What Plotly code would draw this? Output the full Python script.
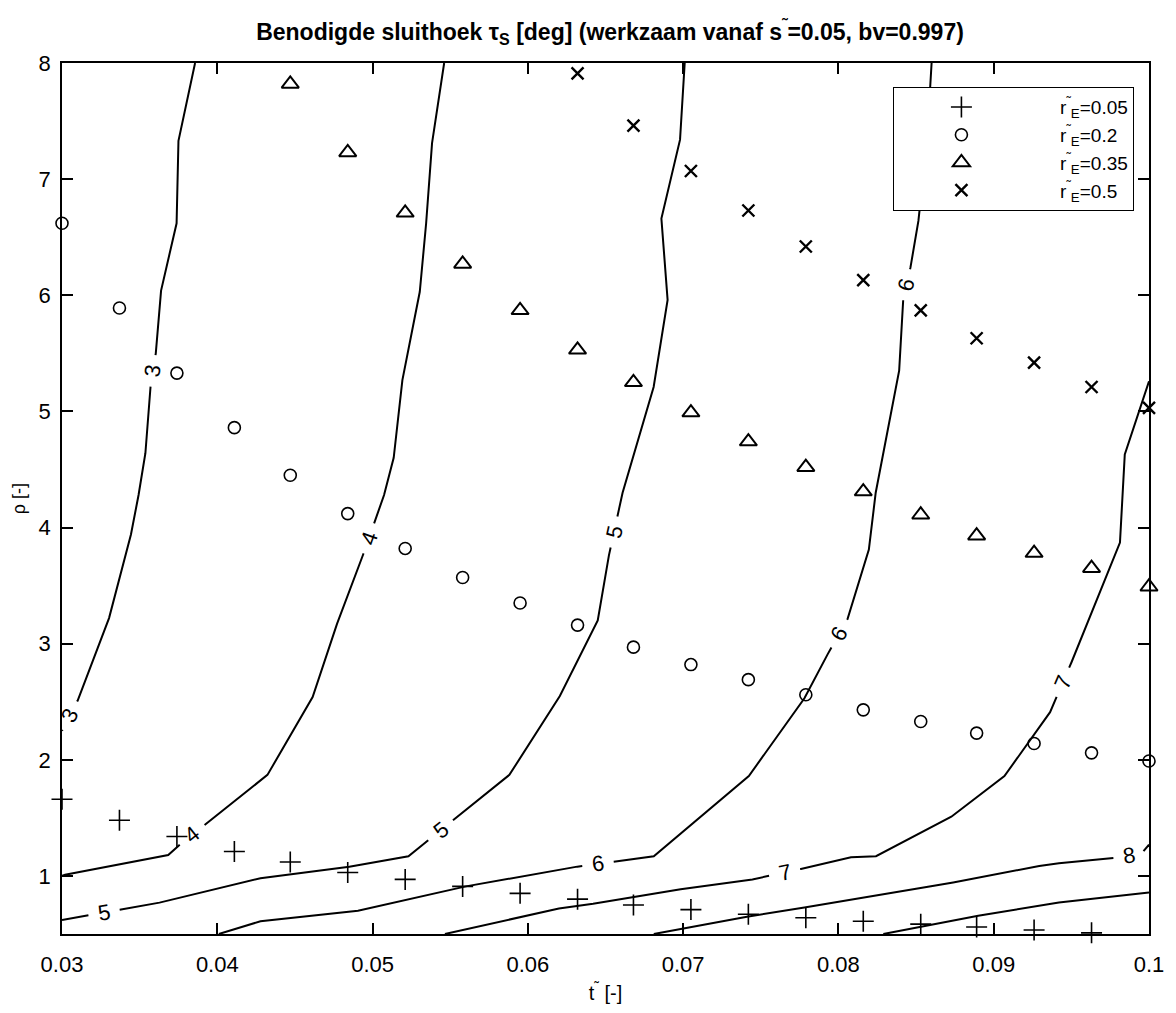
import math
import plotly.graph_objects as go

# ---------------------------------------------------------------------------
# Data
# ---------------------------------------------------------------------------
# t~ values at which the four r~_E series were evaluated
t_grid = [0.0300, 0.0337, 0.0374, 0.0411, 0.0447, 0.0484, 0.0521, 0.0558, 0.0595, 0.0632,
          0.0668, 0.0705, 0.0742, 0.0779, 0.0816, 0.0853, 0.0889, 0.0926, 0.0963, 0.1000]

# rho values per r~_E series (points above rho = 8 lie outside the axes)
rho_r005 = [1.66, 1.48, 1.34, 1.21, 1.12, 1.03, 0.97, 0.91, 0.85, 0.80,
            0.75, 0.71, 0.67, 0.64, 0.61, 0.585, 0.56, 0.535, 0.51, 0.49]
rho_r020 = [6.62, 5.89, 5.33, 4.86, 4.45, 4.12, 3.82, 3.57, 3.35, 3.16,
            2.97, 2.82, 2.69, 2.56, 2.43, 2.33, 2.23, 2.14, 2.06, 1.99]
t_r035 = t_grid[4:]
rho_r035 = [7.82, 7.23, 6.71, 6.27, 5.87, 5.53, 5.25, 4.99, 4.74, 4.52,
            4.31, 4.11, 3.93, 3.78, 3.65, 3.49]
t_r050 = t_grid[9:]
rho_r050 = [7.91, 7.46, 7.07, 6.73, 6.42, 6.13, 5.87, 5.63, 5.42, 5.21, 5.03]

series_names = ["r<sup>˜</sup><sub>E</sub>=0.05", "r<sup>˜</sup><sub>E</sub>=0.2",
                "r<sup>˜</sup><sub>E</sub>=0.35", "r<sup>˜</sup><sub>E</sub>=0.5"]

# Iso-lines of the required closing angle tau_S [deg]
contour_levels = [3, 4, 5, 6, 7, 8, 9]
c3_t = [0.0300, 0.03101, 0.03303, 0.03444, 0.03493, 0.03537, 0.0357, 0.03604, 0.03638,
        0.03738, 0.0375, 0.03857]
c3_rho = [2.25, 2.51, 3.22, 3.94, 4.28, 4.64, 5.21, 5.50, 6.04, 6.62, 7.33, 8.0]
c4_t = [0.0300, 0.0302, 0.03684, 0.03751, 0.04323, 0.04614, 0.04771, 0.0494, 0.05074,
        0.05136, 0.05192, 0.05304, 0.05345, 0.05383, 0.05461]
c4_rho = [1.00, 1.01, 1.18, 1.26, 1.87, 2.54, 3.17, 3.77, 4.28, 4.60, 5.27, 6.03, 6.62, 7.31, 8.0]
c5_t = [0.0300, 0.03628, 0.04278, 0.0485, 0.05231, 0.05881, 0.06206, 0.0645, 0.06522,
        0.0661, 0.0681, 0.0690, 0.0686, 0.0698, 0.0701]
c5_rho = [0.62, 0.77, 0.98, 1.08, 1.17, 1.87, 2.55, 3.20, 3.76, 4.30, 5.21, 5.96, 6.66, 7.34, 8.0]
c6_t = [0.0401, 0.04278, 0.04906, 0.05601, 0.06318, 0.06811, 0.07423, 0.07781, 0.07931,
        0.08058, 0.08196, 0.0824, 0.08391, 0.08418, 0.08464, 0.08515, 0.0857, 0.0860]
c6_rho = [0.50, 0.61, 0.70, 0.91, 1.08, 1.17, 1.86, 2.53, 2.91, 3.21, 3.81, 4.30, 5.35,
          5.98, 6.24, 6.64, 7.32, 8.0]
c7_t = [0.05466, 0.0620, 0.0642, 0.06984, 0.07446, 0.07758, 0.08081, 0.08242, 0.08727,
        0.09069, 0.09363, 0.09501, 0.09813, 0.0983, 0.09844, 0.1000]
c7_rho = [0.50, 0.72, 0.76, 0.886, 0.97, 1.06, 1.16, 1.17, 1.51, 1.86, 2.41, 2.84, 3.87,
          4.30, 4.63, 5.26]
c8_t = [0.06811, 0.07411, 0.07781, 0.0815, 0.08577, 0.08739, 0.09293, 0.0942, 0.0979,
        0.0995, 0.1000]
c8_rho = [0.50, 0.649, 0.729, 0.814, 0.906, 0.943, 1.086, 1.109, 1.157, 1.19, 1.27]
c9_t = [0.08289, 0.0890, 0.0942, 0.1000]
c9_rho = [0.50, 0.657, 0.771, 0.857]

# inline label anchors (t~, rho) per iso-line
c3_labels = [(0.0358, 5.35), (0.0305, 2.38)]
c4_labels = [(0.0384, 1.35), (0.0497, 3.91)]
c5_labels = [(0.0327, 0.69), (0.0544, 1.39), (0.0656, 3.96)]
c6_labels = [(0.0645, 1.12), (0.0800, 3.09), (0.0844, 6.09)]
c7_labels = [(0.0765, 1.05), (0.0944, 2.67)]
c8_labels = [(0.0987, 1.19)]
c9_labels = []

x_tickvals = [0.03, 0.04, 0.05, 0.06, 0.07, 0.08, 0.09, 0.10]
x_ticktext = ["0.03", "0.04", "0.05", "0.06", "0.07", "0.08", "0.09", "0.1"]
y_tickvals = [1, 2, 3, 4, 5, 6, 7, 8]

# ---------------------------------------------------------------------------
# Layout geometry
# ---------------------------------------------------------------------------
W, H = 1176, 1013
M_L, M_R, M_T, M_B = 62, 18, 63, 75
PW, PH = W - M_L - M_R, H - M_T - M_B
X0, X1 = 0.03, 0.10
Y0, Y1 = 0.5, 8.0
FONT = "Liberation Sans, Arial, sans-serif"
LABEL_GAP = 16  # half gap (px) cut out of an iso-line around its label
LEGEND_PAD = "\u00a0" * 6  # spacing between legend symbol column and text column


def to_px(t, r):
    return (t - X0) / (X1 - X0) * PW, (r - Y0) / (Y1 - Y0) * PH


def to_data(x, y):
    return X0 + x / PW * (X1 - X0), Y0 + y / PH * (Y1 - Y0)


def split_line(ts, rs, anchors):
    """Cut gaps into a polyline at label anchors; return x, y and label placements."""
    pts = [to_px(t, r) for t, r in zip(ts, rs)]
    cum = [0.0]
    for (xa, ya), (xb, yb) in zip(pts[:-1], pts[1:]):
        cum.append(cum[-1] + math.hypot(xb - xa, yb - ya))
    total = cum[-1]

    def at(s):
        for i in range(len(pts) - 1):
            if cum[i] <= s <= cum[i + 1]:
                seg = cum[i + 1] - cum[i]
                f = 0 if seg == 0 else (s - cum[i]) / seg
                return (pts[i][0] + f * (pts[i + 1][0] - pts[i][0]),
                        pts[i][1] + f * (pts[i + 1][1] - pts[i][1])), i
        return pts[-1], len(pts) - 2

    labels, cuts = [], []
    for ta, ra in anchors:
        ax, ay = to_px(ta, ra)
        best = None
        for i in range(len(pts) - 1):
            (xa, ya), (xb, yb) = pts[i], pts[i + 1]
            dx, dy = xb - xa, yb - ya
            L2 = dx * dx + dy * dy
            f = 0 if L2 == 0 else max(0, min(1, ((ax - xa) * dx + (ay - ya) * dy) / L2))
            px_, py_ = xa + f * dx, ya + f * dy
            d = math.hypot(ax - px_, ay - py_)
            if best is None or d < best[0]:
                best = (d, cum[i] + f * math.sqrt(L2), i)
        _, s, i = best
        (xa, ya), (xb, yb) = pts[i], pts[i + 1]
        ang = math.degrees(math.atan2(yb - ya, xb - xa))
        while ang > 90:
            ang -= 180
        while ang <= -90:
            ang += 180
        (lx, ly), _ = at(s)
        labels.append((to_data(lx, ly), -ang))
        cuts.append((max(0, s - LABEL_GAP), min(total, s + LABEL_GAP)))

    cuts.sort()
    pieces, start = [], 0.0
    for a, b in cuts:
        if a > start:
            pieces.append((start, a))
        start = max(start, b)
    if start < total:
        pieces.append((start, total))

    xs, ys = [], []
    for a, b in pieces:
        seg = [at(a)[0]] + [p for p, c in zip(pts, cum) if a < c < b] + [at(b)[0]]
        for x, y in seg:
            t, r = to_data(x, y)
            xs.append(t)
            ys.append(r)
        xs.append(None)
        ys.append(None)
    return xs, ys, labels


fig = go.Figure()
annotations = []

contours = [(c3_t, c3_rho, c3_labels), (c4_t, c4_rho, c4_labels), (c5_t, c5_rho, c5_labels),
            (c6_t, c6_rho, c6_labels), (c7_t, c7_rho, c7_labels), (c8_t, c8_rho, c8_labels),
            (c9_t, c9_rho, c9_labels)]
for level, (ts, rs, anchors) in zip(contour_levels, contours):
    xs, ys, labels = split_line(ts, rs, anchors)
    fig.add_trace(go.Scatter(x=xs, y=ys, mode="lines", showlegend=False,
                             line=dict(color="black", width=2), hoverinfo="skip"))
    for (lt, lr), angle in labels:
        annotations.append(dict(x=lt, y=lr, xref="x", yref="y", text=str(level),
                                showarrow=False, textangle=angle,
                                xanchor="center", yanchor="middle",
                                font=dict(family=FONT, size=22, color="black")))

marker_styles = [
    dict(symbol="cross-thin-open", size=15, color="black", line=dict(width=1.6, color="black")),
    dict(symbol="circle-open", size=12, color="black", line=dict(width=1.6, color="black")),
    dict(symbol="triangle-up-open", size=15, color="black", line=dict(width=2, color="black")),
    dict(symbol="x-thin-open", size=12, color="black", line=dict(width=2.4, color="black")),
]
series = [(t_grid, rho_r005), (t_grid, rho_r020), (t_r035, rho_r035), (t_r050, rho_r050)]
for name, (ts, rs), mk in zip(series_names, series, marker_styles):
    fig.add_trace(go.Scatter(x=ts, y=rs, mode="markers", name=LEGEND_PAD + name, marker=mk,
                             cliponaxis=False))

axis_common = dict(showline=True, linecolor="black", linewidth=1.6, mirror="ticks",
                   ticks="inside", ticklen=11, tickwidth=1.6, tickcolor="black",
                   showgrid=False, zeroline=False,
                   tickfont=dict(family=FONT, size=22, color="black"))

fig.update_layout(
    width=W, height=H,
    margin=dict(l=M_L, r=M_R, t=M_T, b=M_B),
    paper_bgcolor="white", plot_bgcolor="white",
    title=dict(text="Benodigde sluithoek τ<sub>S</sub> [deg] (werkzaam vanaf s<sup>˜</sup>=0.05, bv=0.997)",
               x=0.5 + (M_L - M_R) / 2 / W, xanchor="center",
               y=1 - 32 / H, yanchor="middle", yref="container",
               font=dict(family="Liberation Sans Narrow, Arial Narrow, sans-serif",
                         size=23, color="black", weight="bold")),
    xaxis=dict(range=[X0, X1], tickvals=x_tickvals, ticktext=x_ticktext,
               ticklabelstandoff=10,
               title=dict(text="t<sup>˜</sup> [-]", standoff=10,
                          font=dict(family=FONT, size=20, color="black")),
               **axis_common),
    yaxis=dict(range=[Y0, Y1], tickvals=y_tickvals, ticklabelstandoff=5,
               title=dict(text="ρ [-]", standoff=8,
                          font=dict(family=FONT, size=18, color="black")),
               **axis_common),
    legend=dict(x=(900 - M_L) / PW, y=(H - M_B - 87) / PH, xanchor="left", yanchor="top",
                bgcolor="white", bordercolor="black", borderwidth=1.3,
                itemwidth=124, tracegroupgap=2,
                font=dict(family=FONT, size=19, color="black")),
    annotations=annotations,
    showlegend=True,
)

fig.write_html("out.html")
